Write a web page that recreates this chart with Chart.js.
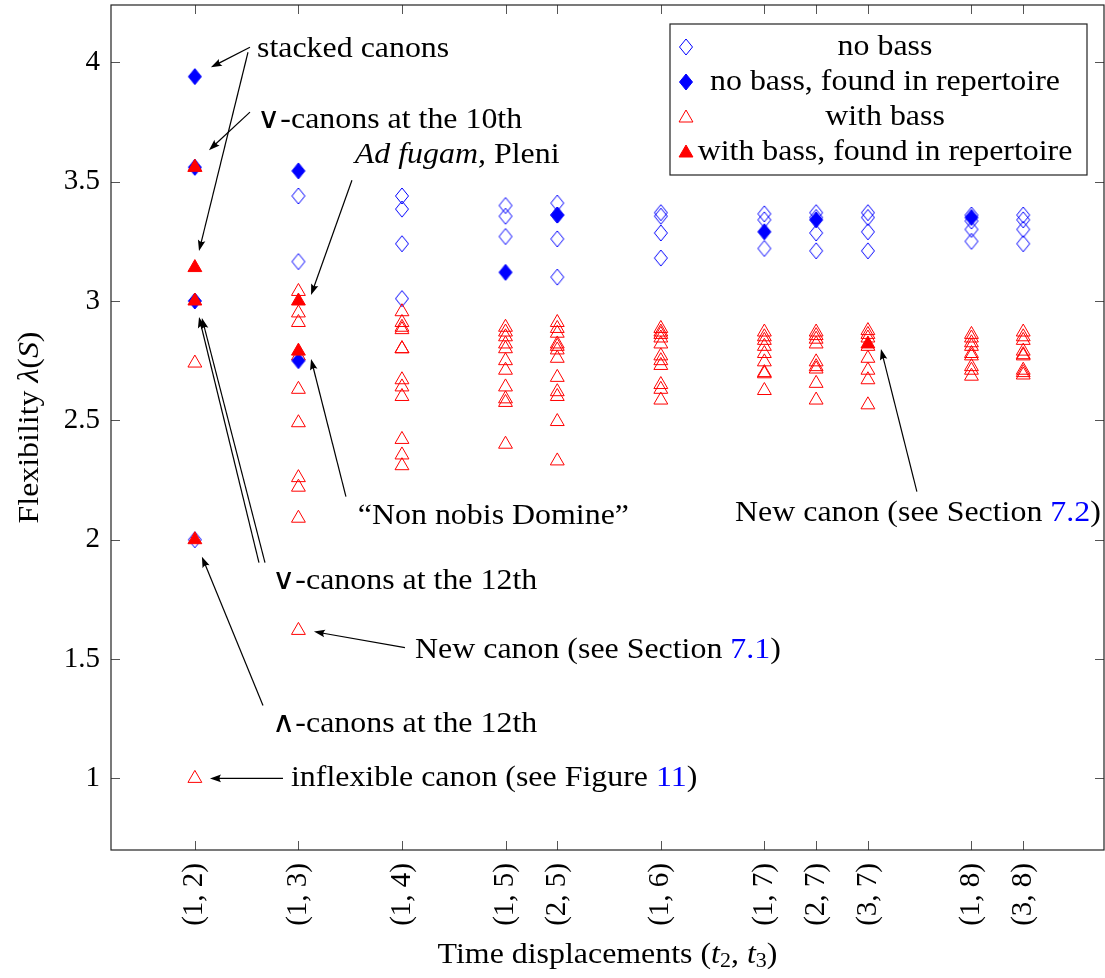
<!DOCTYPE html>
<html lang="en">
<head>
<meta charset="UTF-8" />
<title>Flexibility of canons</title>
<script src="https://cdn.jsdelivr.net/npm/chart.js"></script>
<style>
  body { margin: 0; background: white; }
  #wrap { width: 1105px; height: 978px; position: relative; }
</style>
</head>
<body>
<div id="wrap"><canvas id="chart"></canvas></div>
<script>
  // categories on the x axis and where they sit
  const categories = ["(1, 2)", "(1, 3)", "(1, 4)", "(1, 5)", "(2, 5)", "(1, 6)", "(1, 7)", "(2, 7)", "(3, 7)", "(1, 8)", "(3, 8)"];
  const catPos = [0, 1, 2, 3, 3.5, 4.5, 5.5, 6, 6.5, 7.5, 8];
  const yTicks = [1, 1.5, 2, 2.5, 3, 3.5, 4];

  // values per category (same order as categories)
  const noBass = [
    [2.0],
    [3.44, 3.165],
    [3.44, 3.385, 3.24, 3.01],
    [3.40, 3.355, 3.27],
    [3.41, 3.36, 3.26, 3.10],
    [3.37, 3.355, 3.285, 3.18],
    [3.365, 3.34, 3.22],
    [3.37, 3.35, 3.285, 3.21],
    [3.37, 3.35, 3.29, 3.21],
    [3.36, 3.335, 3.30, 3.25],
    [3.36, 3.34, 3.30, 3.24]
  ];
  const noBassFound = [
    [3.94, 3.56, 3.0],
    [3.545, 2.75],
    [],
    [3.12],
    [3.36],
    [],
    [3.29],
    [3.34],
    [],
    [3.35],
    []
  ];
  const withBass = [
    [3.56, 2.74, 1.0],
    [3.04, 2.95, 2.91, 2.77, 2.63, 2.49, 2.26, 2.22, 2.09, 1.62],
    [2.955, 2.91, 2.89, 2.88, 2.80, 2.80, 2.67, 2.64, 2.60, 2.42, 2.355, 2.31],
    [2.89, 2.87, 2.85, 2.82, 2.80, 2.75, 2.71, 2.64, 2.59, 2.575, 2.40],
    [2.91, 2.885, 2.865, 2.82, 2.81, 2.795, 2.76, 2.68, 2.62, 2.60, 2.495, 2.33],
    [2.885, 2.87, 2.86, 2.845, 2.82, 2.77, 2.75, 2.73, 2.65, 2.63, 2.585],
    [2.87, 2.85, 2.835, 2.81, 2.78, 2.745, 2.70, 2.695, 2.625],
    [2.87, 2.855, 2.84, 2.82, 2.745, 2.725, 2.715, 2.655, 2.585],
    [2.876, 2.86, 2.845, 2.81, 2.76, 2.71, 2.67, 2.565],
    [2.86, 2.845, 2.825, 2.81, 2.78, 2.77, 2.725, 2.71, 2.685],
    [2.87, 2.85, 2.835, 2.79, 2.775, 2.77, 2.71, 2.70, 2.69]
  ];
  const withBassFound = [
    [3.56, 3.14, 3.0, 2.0],
    [3.0, 2.79],
    [], [], [], [], [], [],
    [2.82],
    [], []
  ];

  const legendLabels = ["no bass", "no bass, found in repertoire", "with bass", "with bass, found in repertoire"];

  // annotations: text pieces ['text', style] with style '' / 'i' italic / 'b' blue link
  const notes = [
    { segs: [["stacked canons", ""]], x: 0.60, y: 4.054, align: "left" },
    { segs: [["\u2228-canons at the 10th", ""]], x: 0.60, y: 3.757, align: "left" },
    { segs: [["Ad fugam,", "i"], [" Pleni", ""]], x: 1.545, y: 3.611, align: "left" },
    { segs: [["\u201cNon nobis Domine\u201d", ""]], x: 1.574, y: 2.096, align: "left" },
    { segs: [["\u2228-canons at the 12th", ""]], x: 0.745, y: 1.824, align: "left" },
    { segs: [["\u2227-canons at the 12th", ""]], x: 0.745, y: 1.226, align: "left" },
    { segs: [["New canon (see Section ", ""], ["7.1", "b"], [")", ""]], x: 2.126, y: 1.536, align: "left" },
    { segs: [["inflexible canon (see Figure ", ""], ["11", "b"], [")", ""]], x: 0.928, y: 1.0, align: "left" },
    { segs: [["New canon (see Section ", ""], ["7.2", "b"], [")", ""]], x: 6.983, y: 2.109, align: "center" }
  ];
  // arrows [x1, y1, x2, y2] in data units, head at the second point
  const arrows = [
    [0.532, 4.063, 0.155, 3.979],
    [0.513, 4.042, 0.040, 3.209],
    [0.532, 3.791, 0.136, 3.632],
    [1.517, 3.506, 1.122, 3.025],
    [1.459, 2.180, 1.122, 2.757],
    [0.619, 1.904, 0.040, 2.933],
    [0.677, 1.904, 0.068, 2.929],
    [0.658, 1.305, 0.068, 1.929],
    [2.029, 1.548, 1.150, 1.615],
    [0.851, 1.0, 0.146, 1.0],
    [6.973, 2.201, 6.626, 2.799]
  ];

  const FAMILY = '"Liberation Serif", "DejaVu Serif", serif';
  const BLUE = "#0000ff", RED = "#ff0000";
  const SX = 1.1; // stretch for the wide TeX look

  function toPoints(series) {
    return series.flatMap((vals, i) => vals.map(v => ({ x: catPos[i], y: v })));
  }

  function diamond(filled) {
    const c = document.createElement("canvas");
    c.width = 16; c.height = 20;
    const g = c.getContext("2d");
    g.beginPath();
    g.moveTo(8, 2); g.lineTo(14.5, 10); g.lineTo(8, 18); g.lineTo(1.5, 10); g.closePath();
    if (filled) { g.fillStyle = BLUE; g.fill(); }
    g.lineWidth = 1; g.strokeStyle = BLUE; g.stroke();
    return c;
  }
  const openDiamond = diamond(false), fullDiamond = diamond(true);

  function triPath(ctx, x, y, r) {
    ctx.beginPath();
    ctx.moveTo(x, y - r);
    ctx.lineTo(x + r * 0.866, y + r / 2);
    ctx.lineTo(x - r * 0.866, y + r / 2);
    ctx.closePath();
  }

  function drawRich(ctx, segs, x, y, align) {
    const fontFor = s => (s === "i" ? "italic " : "") + (s === "sub" ? 20 : 29) + "px " + FAMILY;
    let w = 0;
    segs.forEach(([t, s]) => { ctx.font = fontFor(s); w += ctx.measureText(t).width; });
    w *= SX;
    let cx = align === "left" ? x : align === "center" ? x - w / 2 : x - w;
    ctx.save();
    ctx.translate(cx, y);
    ctx.scale(SX, 1);
    ctx.textAlign = "left";
    ctx.textBaseline = "middle";
    let ox = 0;
    segs.forEach(([t, s]) => {
      ctx.font = fontFor(s);
      ctx.fillStyle = s === "b" ? BLUE : "#000";
      ctx.fillText(t, ox, s === "sub" ? 7 : 0);
      ox += ctx.measureText(t).width;
    });
    ctx.restore();
  }

  function arrow(ctx, x1, y1, x2, y2) {
    const a = Math.atan2(y2 - y1, x2 - x1);
    const len = 11, half = 3.8;
    const bx = x2 - Math.cos(a) * len, by = y2 - Math.sin(a) * len;
    ctx.beginPath();
    ctx.moveTo(x1, y1);
    ctx.lineTo(bx + Math.cos(a) * 3, by + Math.sin(a) * 3);
    ctx.lineWidth = 1.2; ctx.strokeStyle = "#000"; ctx.stroke();
    ctx.beginPath();
    ctx.moveTo(x2, y2);
    ctx.lineTo(bx - Math.sin(a) * half, by + Math.cos(a) * half);
    ctx.quadraticCurveTo(bx + Math.cos(a) * 3, by + Math.sin(a) * 3, bx + Math.sin(a) * half, by - Math.cos(a) * half);
    ctx.closePath();
    ctx.fillStyle = "#000"; ctx.fill();
  }

  const decor = {
    id: "decor",
    afterDatasetsDraw(chart) {
      const ctx = chart.ctx, ca = chart.chartArea;
      const xs = chart.scales.x, ys = chart.scales.y;
      ctx.save();

      // annotations
      arrows.forEach(([x1, y1, x2, y2]) => arrow(ctx,
        xs.getPixelForValue(x1), ys.getPixelForValue(y1),
        xs.getPixelForValue(x2), ys.getPixelForValue(y2)));
      notes.forEach(n => drawRich(ctx, n.segs, xs.getPixelForValue(n.x), ys.getPixelForValue(n.y), n.align));

      // tick marks, inside on all four sides
      ctx.strokeStyle = "#555"; ctx.lineWidth = 1;
      ctx.beginPath();
      catPos.forEach(v => {
        const px = Math.round(xs.getPixelForValue(v)) + 0.5;
        ctx.moveTo(px, ca.bottom); ctx.lineTo(px, ca.bottom - 9);
        ctx.moveTo(px, ca.top); ctx.lineTo(px, ca.top + 9);
      });
      yTicks.forEach(v => {
        const py = Math.round(ys.getPixelForValue(v)) + 0.5;
        ctx.moveTo(ca.left, py); ctx.lineTo(ca.left + 9, py);
        ctx.moveTo(ca.right, py); ctx.lineTo(ca.right - 9, py);
      });
      ctx.stroke();

      // frame
      ctx.strokeStyle = "#222"; ctx.lineWidth = 1.2;
      ctx.strokeRect(ca.left, ca.top, ca.right - ca.left, ca.bottom - ca.top);

      // axis titles
      drawRich(ctx, [["Time displacements (", ""], ["t", "i"], ["2", "sub"], [", ", ""], ["t", "i"], ["3", "sub"], [")", ""]],
        (ca.left + ca.right) / 2, 955, "center");
      ctx.save();
      ctx.translate(30, (ca.top + ca.bottom) / 2);
      ctx.rotate(-Math.PI / 2);
      drawRich(ctx, [["Flexibility ", ""], ["\u03bb", "i"], ["(", ""], ["S", "i"], [")", ""]], 0, 0, "center");
      ctx.restore();

      // legend box
      const bw = 417, bh = 151;
      const bx = ca.right - 17 - bw, by = ca.top + 19;
      ctx.fillStyle = "#fff";
      ctx.fillRect(bx, by, bw, bh);
      ctx.strokeStyle = "#222"; ctx.lineWidth = 1.2;
      ctx.strokeRect(bx, by, bw, bh);
      legendLabels.forEach((lab, i) => {
        const ry = by + 23 + i * 35, mx = bx + 16;
        if (i === 0) ctx.drawImage(openDiamond, mx - 8, ry - 10);
        if (i === 1) ctx.drawImage(fullDiamond, mx - 8, ry - 10);
        if (i >= 2) {
          triPath(ctx, mx, ry + 1, 8);
          ctx.lineWidth = 1; ctx.strokeStyle = RED;
          if (i === 3) { ctx.fillStyle = RED; ctx.fill(); }
          ctx.stroke();
        }
        drawRich(ctx, [[lab, ""]], bx + 215, ry, "center");
      });
      ctx.restore();
    }
  };

  const pointDefaults = { showLine: false, pointBorderWidth: 1, pointRadius: 8 };
  const noPad = s => { s.paddingTop = 0; s.paddingBottom = 0; s.paddingLeft = 0; s.paddingRight = 0; };

  new Chart(document.getElementById("chart"), {
    type: "scatter",
    data: {
      datasets: [
        { ...pointDefaults, label: legendLabels[3], data: toPoints(withBassFound), order: 0,
          pointStyle: "triangle", borderColor: RED, backgroundColor: RED },
        { ...pointDefaults, label: legendLabels[1], data: toPoints(noBassFound), order: 1,
          pointStyle: fullDiamond, borderColor: BLUE, backgroundColor: BLUE },
        { ...pointDefaults, label: legendLabels[2], data: toPoints(withBass), order: 2,
          pointStyle: "triangle", borderColor: RED, backgroundColor: "rgba(0,0,0,0)" },
        { ...pointDefaults, label: legendLabels[0], data: toPoints(noBass), order: 3,
          pointStyle: openDiamond, borderColor: BLUE, backgroundColor: "rgba(0,0,0,0)" }
      ]
    },
    options: {
      responsive: true,
      maintainAspectRatio: false,
      animation: false,
      layout: { autoPadding: false, padding: { top: 5, right: 1, left: 0, bottom: 0 } },
      plugins: { legend: { display: false }, tooltip: { enabled: false } },
      scales: {
        x: {
          type: "linear", min: -0.81, max: 8.78,
          grid: { display: false, drawTicks: false },
          border: { display: false },
          afterBuildTicks: s => { s.ticks = catPos.map(v => ({ value: v })); },
          afterFit: s => { s.height = 128; noPad(s); },
          ticks: {
            autoSkip: false, minRotation: 90, maxRotation: 90, padding: 13,
            color: "#000", font: { family: FAMILY, size: 29 },
            callback: (v, i) => categories[i]
          }
        },
        y: {
          type: "linear", min: 0.7, max: 4.24,
          grid: { display: false, drawTicks: false },
          border: { display: false },
          afterBuildTicks: s => { s.ticks = yTicks.map(v => ({ value: v })); },
          afterFit: s => { s.width = 111; noPad(s); },
          ticks: {
            padding: 11, color: "#000", font: { family: FAMILY, size: 29 },
            callback: v => String(v)
          }
        }
      }
    },
    plugins: [decor]
  });
</script>
</body>
</html>
